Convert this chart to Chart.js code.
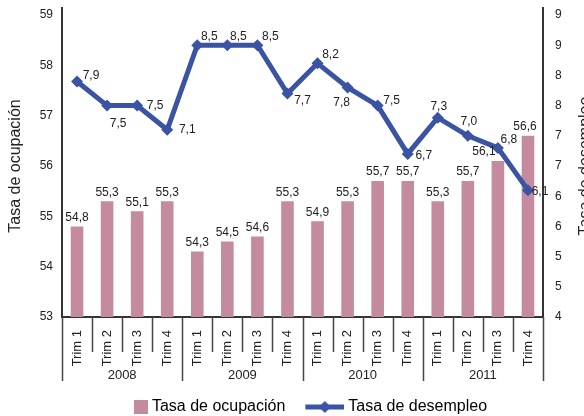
<!DOCTYPE html>
<html>
<head>
<meta charset="utf-8">
<script src="https://cdn.jsdelivr.net/npm/chart.js@4.4.0/dist/chart.umd.min.js"></script>
<style>
  html, body { margin: 0; padding: 0; background: #fff; }
  #wrap { width: 584px; height: 416px; }
</style>
</head>
<body>
<div id="wrap"><canvas id="chart"></canvas></div>
<script>
const quarters = ['Trim 1', 'Trim 2', 'Trim 3', 'Trim 4',
                  'Trim 1', 'Trim 2', 'Trim 3', 'Trim 4',
                  'Trim 1', 'Trim 2', 'Trim 3', 'Trim 4',
                  'Trim 1', 'Trim 2', 'Trim 3', 'Trim 4'];
const years = ['2008', '2009', '2010', '2011'];
const ocupacion = [54.8, 55.3, 55.1, 55.3, 54.3, 54.5, 54.6, 55.3,
                   54.9, 55.3, 55.7, 55.7, 55.3, 55.7, 56.1, 56.6];
const desempleo = [7.9, 7.5, 7.5, 7.1, 8.5, 8.5, 8.5, 7.7,
                   8.2, 7.8, 7.5, 6.7, 7.3, 7.0, 6.8, 6.1];

// where each line label sits relative to its point
const lineLabelOffsets = [[14, -6], [11, 18], [18, 0], [20, 0], [12, -9], [11, -9], [13, -9], [15, 7],
                          [13, -9], [-6, 15], [14, -5], [16, 2], [1, -11], [1, -14], [11, -8], [12, 2]];
const barLabelShift = [0, 0, 0, 0, 0, 0, 0, 0, 0, 0, 0, 0, 0, 0, -14, -3];

const barColor = '#C48B9F';
const lineColor = '#3B53A3';
const textColor = '#222';
const fontFamily = '"Liberation Sans", Arial, sans-serif';

function fmt(v) { return v.toFixed(1).replace('.', ','); }

// legend symbols
const sqIcon = document.createElement('canvas');
sqIcon.width = 43; sqIcon.height = 16;
(function () {
    const c = sqIcon.getContext('2d');
    c.fillStyle = barColor;
    c.fillRect(29, 1, 14, 14);
})();
const lineIcon = document.createElement('canvas');
lineIcon.width = 43; lineIcon.height = 16;
(function () {
    const c = lineIcon.getContext('2d');
    c.strokeStyle = lineColor;
    c.lineWidth = 5;
    c.beginPath(); c.moveTo(4, 8); c.lineTo(43, 8); c.stroke();
    c.fillStyle = lineColor;
    c.beginPath(); c.moveTo(23.5, 2); c.lineTo(29.5, 8); c.lineTo(23.5, 14); c.lineTo(17.5, 8); c.closePath(); c.fill();
})();

const extras = {
    id: 'extras',
    afterLayout(chart) {
        // nudge legend a bit right, like the original
        if (chart.legend) { chart.legend.left += 6; chart.legend.right += 6; }
    },
    afterDatasetsDraw(chart) {
        const ctx = chart.ctx;
        ctx.save();
        ctx.fillStyle = textColor;
        ctx.font = '12px ' + fontFamily;
        ctx.textAlign = 'center';
        ctx.textBaseline = 'middle';
        chart.getDatasetMeta(0).data.forEach((bar, i) => {
            ctx.fillText(fmt(ocupacion[i]), bar.x + barLabelShift[i], bar.y - 9);
        });
        chart.getDatasetMeta(1).data.forEach((pt, i) => {
            const o = lineLabelOffsets[i];
            ctx.fillText(fmt(desempleo[i]), pt.x + o[0], pt.y + o[1]);
        });
        ctx.restore();
    },
    afterDraw(chart) {
        const ctx = chart.ctx;
        const x = chart.scales.x;
        const half = (x.getPixelForValue(1) - x.getPixelForValue(0)) / 2;
        const area = chart.chartArea;
        const base = area.bottom;
        ctx.save();
        ctx.strokeStyle = '#333';
        ctx.lineWidth = 2;
        // axis lines run a little above the top tick, as in the original
        [area.left, area.right].forEach((ax) => {
            ctx.beginPath(); ctx.moveTo(ax, area.top); ctx.lineTo(ax, area.top - 8); ctx.stroke();
        });
        ctx.strokeStyle = '#444';
        ctx.lineWidth = 1.5;
        for (let i = 0; i <= quarters.length; i++) {
            const px = Math.round(x.getPixelForValue(i) - half) + 0.5;
            const len = (i % 4 === 0) ? 64 : 35;
            ctx.beginPath();
            ctx.moveTo(px, base);
            ctx.lineTo(px, base + len);
            ctx.stroke();
        }
        ctx.fillStyle = textColor;
        ctx.font = '13px ' + fontFamily;
        ctx.textAlign = 'center';
        ctx.textBaseline = 'middle';
        years.forEach((y, k) => {
            const cx = (x.getPixelForValue(k * 4) + x.getPixelForValue(k * 4 + 3)) / 2;
            ctx.fillText(y, cx, base + 58);
        });
        // right axis title
        const r = chart.scales.y1;
        ctx.font = '16px ' + fontFamily;
        ctx.translate(586, (r.top + r.bottom) / 2);
        ctx.rotate(-Math.PI / 2);
        ctx.fillText('Tasa de desempleo', 0, 0);
        ctx.restore();
    }
};

new Chart(document.getElementById('chart'), {
    data: {
        labels: quarters,
        datasets: [
            {
                type: 'bar',
                label: 'Tasa de ocupación',
                data: ocupacion,
                backgroundColor: barColor,
                categoryPercentage: 1,
                barPercentage: 0.42,
                yAxisID: 'y',
                order: 1
            },
            {
                type: 'line',
                label: 'Tasa de desempleo',
                data: desempleo,
                borderColor: lineColor,
                backgroundColor: lineColor,
                borderWidth: 5,
                pointStyle: 'rectRot',
                pointRadius: 6,
                pointBackgroundColor: lineColor,
                pointBorderWidth: 0,
                tension: 0,
                yAxisID: 'y1',
                order: 0
            }
        ]
    },
    options: {
        responsive: true,
        maintainAspectRatio: false,
        animation: false,
        layout: { padding: { top: 15, left: 0, right: 0, bottom: -9 } },
        plugins: {
            tooltip: { enabled: false },
            legend: {
                position: 'bottom',
                labels: {
                    usePointStyle: true,
                    pointStyleWidth: 35,
                    padding: 20,
                    color: textColor,
                    font: { family: fontFamily, size: 16 },
                    generateLabels: () => [
                        { text: 'Tasa de ocupación', pointStyle: sqIcon, fillStyle: barColor, strokeStyle: barColor, lineWidth: 0, hidden: false, datasetIndex: 0 },
                        { text: 'Tasa de desempleo', pointStyle: lineIcon, fillStyle: lineColor, strokeStyle: lineColor, lineWidth: 0, hidden: false, datasetIndex: 1 }
                    ]
                }
            }
        },
        scales: {
            x: {
                grid: { display: false },
                border: { color: '#333', width: 2 },
                ticks: {
                    color: textColor,
                    font: { family: fontFamily, size: 13 },
                    minRotation: 90,
                    maxRotation: 90,
                    autoSkip: false,
                    padding: 5
                },
                afterFit(s) { s.height = 62; }
            },
            y: {
                position: 'left',
                min: 53,
                max: 59,
                grid: { display: true, drawOnChartArea: false, drawTicks: true, tickLength: 9, tickColor: 'rgba(0,0,0,0)' },
                border: { color: '#333', width: 2 },
                ticks: {
                    stepSize: 1,
                    color: textColor,
                    padding: 0,
                    font: { family: fontFamily, size: 12 }
                },
                title: {
                    display: true,
                    text: 'Tasa de ocupación',
                    color: textColor,
                    font: { family: fontFamily, size: 16 },
                    padding: { top: 6, bottom: 0 }
                },
                afterFit(s) { s.width = 62; }
            },
            y1: {
                position: 'right',
                min: 4,
                max: 9,
                grid: { display: true, drawOnChartArea: false, drawTicks: true, tickLength: 12, tickColor: 'rgba(0,0,0,0)' },
                border: { color: '#333', width: 2 },
                ticks: {
                    stepSize: 0.5,
                    color: textColor,
                    padding: 0,
                    font: { family: fontFamily, size: 12 },
                    callback: (v) => String(Math.round(v))
                },
                afterFit(s) { s.width = 41; }
            }
        }
    },
    plugins: [extras]
});
</script>
</body>
</html>
